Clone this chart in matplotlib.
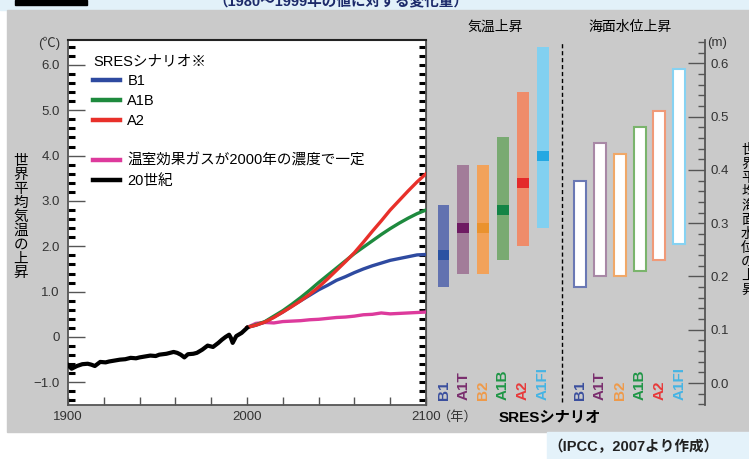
import matplotlib
matplotlib.use('agg')
import matplotlib.pyplot as plt
import matplotlib.transforms as mtransforms
from matplotlib.patches import Rectangle
from matplotlib.lines import Line2D
import numpy as np

plt.rcParams['font.family'] = ['Liberation Sans', 'Noto Sans CJK JP']

# 20th century observed-model mean (relative to 1980-1999)
hist_years = [1900, 1902, 1905, 1908, 1911, 1913, 1915, 1918, 1921, 1923, 1926, 1929, 1932,
              1935, 1938, 1940, 1943, 1946, 1949, 1951, 1955, 1959, 1961, 1963, 1965, 1967,
              1970, 1972, 1975, 1978, 1981, 1984, 1986, 1988, 1990, 1991, 1992, 1994, 1997,
              2000]
hist_temp = [-0.62, -0.70, -0.64, -0.60, -0.59, -0.61, -0.64, -0.55, -0.56, -0.54, -0.52, -0.50,
             -0.49, -0.46, -0.47, -0.45, -0.43, -0.41, -0.42, -0.39, -0.37, -0.33, -0.35, -0.39,
             -0.45, -0.38, -0.37, -0.35, -0.28, -0.19, -0.22, -0.13, -0.06, 0.00, 0.05, -0.02,
             -0.13, 0.02, 0.09, 0.20]

# projections 2000-2100
proj_years = [2000, 2005, 2010, 2015, 2020, 2025, 2030, 2035, 2040, 2045, 2050,
              2055, 2060, 2065, 2070, 2075, 2080, 2085, 2090, 2095, 2100]
b1_temp = [0.21, 0.26, 0.33, 0.44, 0.55, 0.68, 0.80, 0.92, 1.04, 1.14, 1.25,
           1.33, 1.42, 1.50, 1.57, 1.63, 1.69, 1.73, 1.77, 1.81, 1.82]
a1b_temp = [0.21, 0.27, 0.34, 0.46, 0.58, 0.72, 0.87, 1.03, 1.20, 1.36, 1.52,
            1.68, 1.84, 1.98, 2.12, 2.26, 2.39, 2.51, 2.62, 2.72, 2.80]
a2_temp = [0.21, 0.26, 0.33, 0.43, 0.55, 0.67, 0.80, 0.94, 1.10, 1.28, 1.47,
           1.66, 1.86, 2.09, 2.33, 2.56, 2.80, 3.01, 3.22, 3.42, 3.60]
const_temp = [0.21, 0.30, 0.32, 0.31, 0.34, 0.35, 0.36, 0.38, 0.39, 0.41, 0.43,
              0.44, 0.46, 0.49, 0.50, 0.53, 0.51, 0.52, 0.53, 0.54, 0.55]

# end-of-century ranges by SRES scenario
scenarios = ['B1', 'A1T', 'B2', 'A1B', 'A2', 'A1FI']
temp_best = [1.8, 2.4, 2.4, 2.8, 3.4, 4.0]
temp_low = [1.1, 1.4, 1.4, 1.7, 2.0, 2.4]
temp_high = [2.9, 3.8, 3.8, 4.4, 5.4, 6.4]
sea_low = [0.18, 0.20, 0.20, 0.21, 0.23, 0.26]
sea_high = [0.38, 0.45, 0.43, 0.48, 0.51, 0.59]

label_colors = ['#3a4f9e', '#7a2e6e', '#ef9a4a', '#1f9646', '#e83a3a', '#45b4e4']
fill_colors = ['#6272b0', '#a27c99', '#f2a25a', '#79aa72', '#ef8c6a', '#82d0f0']
best_colors = ['#2a52a2', '#6e1a62', '#ea922e', '#148446', '#e42a2a', '#24a8e2']
edge_colors = ['#6a78b4', '#a888a6', '#f0a868', '#7ab46c', '#f09a78', '#86d2f2']

W, H = 749, 459


def fbox(x0, y0, x1, y1):
    # pixel box (top-left origin) -> figure fraction rect
    return [x0 / W, 1 - y1 / H, (x1 - x0) / W, (y1 - y0) / H]


fig = plt.figure(figsize=(W / 100, H / 100), dpi=100)

# page background pieces
fig.patches.append(Rectangle((0, 1 - 10 / H), 1, 10 / H, transform=fig.transFigure,
                             color='#e2f1f9', zorder=-2))
fig.patches.append(Rectangle((15 / W, 1 - 5 / H), 72 / W, 5 / H, transform=fig.transFigure,
                             color='black', zorder=-1))
fig.patches.append(Rectangle((7 / W, 1 - 432 / H), 1, 422 / H, transform=fig.transFigure,
                             color='#cacaca', zorder=-2))
fig.patches.append(Rectangle((547 / W, 0), 1, 27 / H, transform=fig.transFigure,
                             color='#e4f2fa', zorder=-2))
fig.text(213 / W, 1 - 6 / H, '（1980～1999年の値に対する変化量）', fontsize=10.5,
         fontweight='bold', color='#1c2a6a', ha='left', va='baseline')
fig.text(548 / W, 1 - 447 / H, '（IPCC，2007より作成）', fontsize=10.5,
         fontweight='bold', color='#222222', ha='left', va='center')

# ---- time series panel ----
ax = fig.add_axes(fbox(68, 40, 426, 405))
ax.set_facecolor('white')
ax.plot(proj_years, const_temp, color='#dd3a9c', lw=2.4, zorder=3)
ax.plot(proj_years, b1_temp, color='#2e4aa0', lw=2.4, zorder=4)
ax.plot(proj_years, a1b_temp, color='#1e8a3e', lw=2.4, zorder=5)
ax.plot(proj_years, a2_temp, color='#e8302a', lw=2.4, zorder=6)
ax.plot(hist_years, hist_temp, color='black', lw=3.0, zorder=7)

ax.set_xlim(1900, 2100)
ax.set_ylim(-1.5, 6.55)
ax.set_xticks([1900, 2000, 2100])
ax.set_xticklabels(['1900', '2000', '2100'])
ax.set_xticks(np.arange(1900, 2101, 20), minor=True)
ax.set_yticks(np.arange(-1, 7, 1))
ax.set_yticklabels(['−1.0', '0', '1.0', '2.0', '3.0', '4.0', '5.0', '6.0'])
ax.set_yticks(np.arange(-1.4, 6.5, 0.2), minor=True)
ax.tick_params(axis='x', which='both', direction='in', length=6, width=1, color='#555555',
               labelsize=9.5, labelcolor='#333333', pad=4)
ax.tick_params(axis='y', which='major', direction='in', length=12, width=1, color='#555555',
               labelsize=9.5, labelcolor='#333333', pad=6)
ax.tick_params(axis='y', which='minor', direction='in', length=5, width=2.2, color='black')
for side in ['left', 'bottom', 'right']:
    ax.spines[side].set_color('#555555')
    ax.spines[side].set_linewidth(1.3)
ax.spines['top'].set_color('#222222')
ax.spines['top'].set_linewidth(1.5)

sec = ax.secondary_yaxis('right')
sec.set_yticks(np.arange(-1.4, 6.5, 0.2))
sec.tick_params(direction='in', length=5, width=2.2, color='black', labelright=False)
sec.spines['right'].set_color('#555555')

handles = [Line2D([], [], color='#2e4aa0', lw=3.2),
           Line2D([], [], color='#1e8a3e', lw=3.2),
           Line2D([], [], color='#e8302a', lw=3.2),
           Line2D([], [], color='none'),
           Line2D([], [], color='#dd3a9c', lw=3.2),
           Line2D([], [], color='black', lw=3.2)]
labels = ['B1', 'A1B', 'A2', ' ', '温室効果ガスが2000年の濃度で一定', '20世紀']
leg = ax.legend(handles, labels, title='SRESシナリオ※', loc='upper left',
                bbox_to_anchor=(0.07, 0.96), frameon=False, fontsize=10.5,
                title_fontsize=10.5, handlelength=1.85, handletextpad=0.5,
                labelspacing=0.4, borderpad=0, borderaxespad=0, alignment='left')

fig.text(21 / W, 1 - 217 / H, '\n'.join('世界平均気温の上昇'), ha='center', va='center',
         fontsize=10.5, linespacing=1.0)
fig.text(49 / W, 1 - 43 / H, '(℃)', ha='center', va='center', fontsize=9.5, color='#333333')
fig.text(458 / W, 1 - 417 / H, '（年）', ha='center', va='center', fontsize=9.5, color='#333333')

# ---- scenario range panel ----
ax2 = fig.add_axes(fbox(426, 40, 705, 405))
ax2.set_facecolor('none')
ax2.set_xlim(-0.884, 13.2)
ax2.set_ylim(ax.get_ylim())
for s in ax2.spines.values():
    s.set_visible(False)
ax2.set_xticks([])
ax2.set_yticks([])

x_temp = np.arange(len(scenarios))
x_sea = x_temp + 6.9
low = np.array(temp_low)
ax2.bar(x_temp, np.array(temp_high) - low, bottom=low, width=0.6, color=fill_colors, zorder=2)
ax2.bar(x_temp, 0.22, bottom=np.array(temp_best) - 0.11, width=0.6, color=best_colors, zorder=3)
ax2.axvline(5.98, ymin=0.008, ymax=0.995, color='black', ls=(0, (3, 2)), lw=1)

ax3 = ax2.twinx()
ax3.set_ylim(-0.041, 0.6435)
for side in ['left', 'top', 'bottom']:
    ax3.spines[side].set_visible(False)
ax3.spines['right'].set_color('#555555')
ax3.spines['right'].set_linewidth(1.3)
ax3.set_yticks(np.arange(0, 0.61, 0.1))
ax3.set_yticklabels(['0.0', '0.1', '0.2', '0.3', '0.4', '0.5', '0.6'])
ax3.set_yticks(np.arange(-0.04, 0.641, 0.02), minor=True)
ax3.tick_params(axis='y', which='major', direction='in', length=12, width=1, color='#555555',
                labelsize=9.5, labelcolor='#333333', pad=4)
ax3.tick_params(axis='y', which='minor', direction='in', length=5, width=1, color='#555555')
slow = np.array(sea_low)
ax3.bar(x_sea, np.array(sea_high) - slow, bottom=slow, width=0.6, facecolor='white',
        edgecolor=edge_colors, linewidth=1.5, zorder=2)

trans = mtransforms.blended_transform_factory(ax2.transData, ax2.transAxes)
for i, name in enumerate(scenarios):
    for xpos in (x_temp[i], x_sea[i]):
        ax2.text(xpos, 0.013, name, transform=trans, rotation=90, ha='center', va='bottom',
                 color=label_colors[i], fontweight='bold', fontsize=11)

fig.text(495 / W, 1 - 27 / H, '気温上昇', ha='center', va='center', fontsize=10)
fig.text(630 / W, 1 - 27 / H, '海面水位上昇', ha='center', va='center', fontsize=10)
fig.text(717 / W, 1 - 43 / H, '(m)', ha='center', va='center', fontsize=9.5, color='#333333')
fig.text(550 / W, 1 - 418 / H, 'SRESシナリオ', ha='center', va='center', fontsize=11,
         fontweight='bold')
fig.text(748 / W, 1 - 220 / H, '\n'.join('世界平均海面水位の上昇'), ha='center', va='center',
         fontsize=10, linespacing=1.0)

fig.savefig('out.png', dpi=100)
